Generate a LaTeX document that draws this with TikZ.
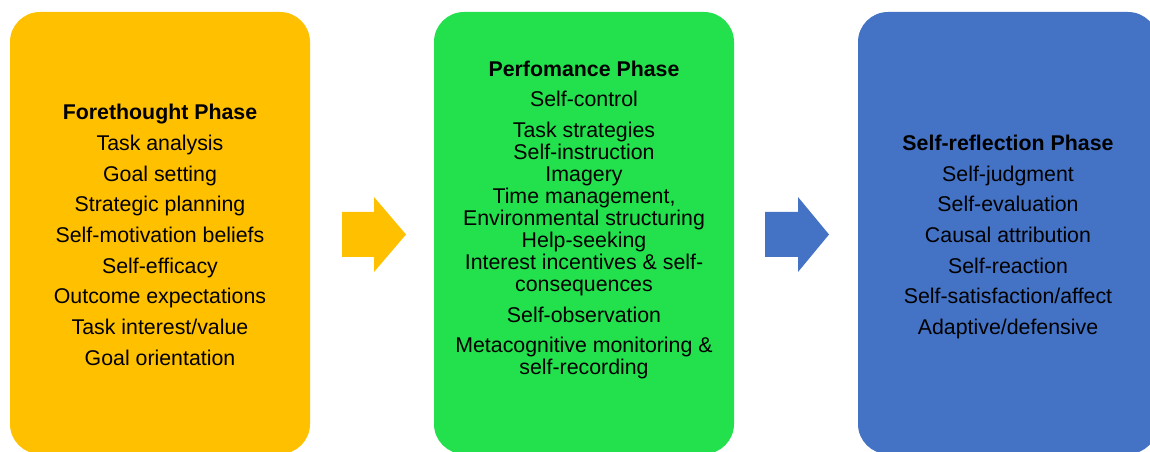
\documentclass[tikz,border=0pt]{standalone}
\usepackage{fontspec}
\setmainfont{Liberation Sans}
\definecolor{phaseyellow}{HTML}{FFC000}
\definecolor{phasegreen}{HTML}{23E14D}
\definecolor{phaseblue}{HTML}{4472C4}
\begin{document}
\begin{tikzpicture}[x=0.75pt,y=-0.75pt,
  phasebox/.style={rounded corners=22.5pt, draw=none, inner sep=0pt,
    minimum width=225pt, minimum height=331.5pt},
  phasetext/.style={align=center, inner sep=0pt, text=black,
    font=\fontsize{16}{16.5}\selectfont},
  flowarrow/.style={draw=none}]
\useasboundingbox (0,0) rectangle (1150,452);
\node[phasebox, fill=phaseyellow] (fore) at (160,233) {};
\node[phasebox, fill=phasegreen] (perf) at (584,233) {};
\node[phasebox, fill=phaseblue] (refl) at (1008,233) {};
\node[phasetext] (foretext) at (160,235) {\textbf{Forethought Phase}\\[6.5pt]
  Task analysis\\[6.5pt] Goal setting\\[6.5pt] Strategic planning\\[6.5pt]
  Self-motivation beliefs\\[6.5pt] Self-efficacy\\[6.5pt] Outcome expectations\\[6.5pt]
  Task interest/value\\[6.5pt] Goal orientation};
\node[phasetext] (perftext) at (584,220) {\textbf{Perfomance Phase}\\[6.5pt]
  Self-control\\[6.5pt]
  Task strategies\\ Self-instruction\\ Imagery\\ Time management,\\
  Environmental structuring\\ Help-seeking\\ Interest incentives \& self-\\
  consequences\\[6.5pt]
  Self-observation\\[6.5pt]
  Metacognitive monitoring \&\\ self-recording};
\node[phasetext] (refltext) at (1008,237) {\textbf{Self-reflection Phase}\\[6.5pt]
  Self-judgment\\[6.5pt] Self-evaluation\\[6.5pt] Causal attribution\\[6.5pt]
  Self-reaction\\[6.5pt] Self-satisfaction/affect\\[6.5pt] Adaptive/defensive};
\fill[phaseyellow] (342,212) -- (374,212) -- (374,197) -- (406,234.5) -- (374,272)
  -- (374,257) -- (342,257) -- cycle;
\fill[phaseblue] (765,212) -- (798,212) -- (798,197) -- (829,234.5) -- (798,272)
  -- (798,257) -- (765,257) -- cycle;
\end{tikzpicture}
\end{document}
